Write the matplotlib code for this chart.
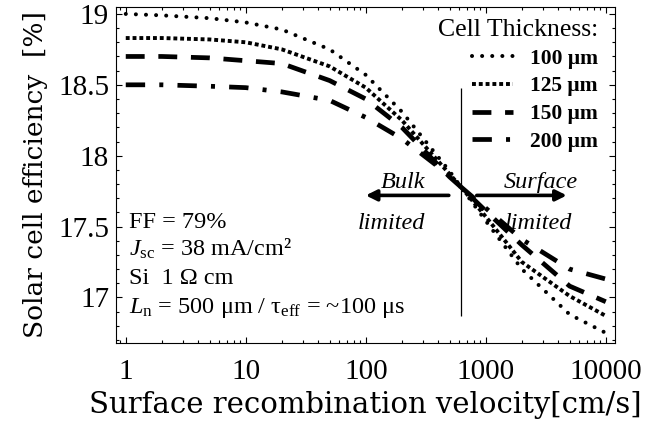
import numpy as np
import matplotlib
matplotlib.use("Agg")
import matplotlib.pyplot as plt
from matplotlib.ticker import FixedLocator, NullFormatter, LogLocator

## Data
velocity = [1, 2, 5, 10, 20, 50, 100, 200, 500, 620, 1000, 2000, 5000, 10000]
eff_100 = [19.00, 18.99, 18.97, 18.94, 18.89, 18.75, 18.57, 18.31, 17.89, 17.78, 17.54, 17.20, 16.88, 16.75]
eff_125 = [18.83, 18.83, 18.82, 18.80, 18.75, 18.63, 18.48, 18.25, 17.87, 17.78, 17.57, 17.25, 17.01, 16.87]
eff_150 = [18.70, 18.70, 18.69, 18.67, 18.65, 18.53, 18.40, 18.20, 17.85, 17.78, 17.61, 17.37, 17.08, 16.97]
eff_200 = [18.50, 18.50, 18.49, 18.48, 18.45, 18.39, 18.27, 18.12, 17.86, 17.78, 17.63, 17.41, 17.20, 17.13]
labels = ["100 μm", "125 μm", "150 μm", "200 μm"]

x_ticks = [1, 10, 100, 1000, 10000]
y_ticks = [17, 17.5, 18, 18.5, 19]

serif = "Liberation Serif"
wide_serif = "DejaVu Serif"
plt.rcParams["font.family"] = serif
plt.rcParams["mathtext.fontset"] = "custom"
plt.rcParams["mathtext.rm"] = serif
plt.rcParams["mathtext.it"] = serif + ":italic"
plt.rcParams["mathtext.bf"] = serif + ":bold"

fig = plt.figure(figsize=(6.52, 4.28), dpi=100)
ax = fig.add_axes([0.178, 0.199, 0.765, 0.785])

styles = [
    dict(lw=2.9, linestyle=(0, (0.01, 2.5)), dash_capstyle="round"),
    dict(lw=2.8, linestyle=(0, (1.0, 0.75)), dash_capstyle="butt"),
    dict(lw=3.4, linestyle=(0, (4.0, 2.9)), dash_capstyle="butt"),
    dict(lw=3.4, linestyle=(0, (4.1, 3.0, 0.85, 3.0)), dash_capstyle="butt"),
]
for eff, lab, st in zip([eff_100, eff_125, eff_150, eff_200], labels, styles):
    ax.plot(velocity, eff, color="black", label=lab, **st)

ax.set_xscale("log")
ax.set_xlim(0.83, 11900)
ax.set_ylim(16.68, 19.05)

ax.set_xticks(x_ticks)
ax.set_xticklabels([str(v) for v in x_ticks])
ax.xaxis.set_minor_locator(LogLocator(base=10, subs=np.arange(2, 10)))
ax.xaxis.set_minor_formatter(NullFormatter())
ax.set_yticks(y_ticks)
ax.set_yticklabels(["17", "17.5", "18", "18.5", "19"])
ax.yaxis.set_minor_locator(FixedLocator(np.arange(16.7, 19.05, 0.1)))

ax.tick_params(which="both", direction="in", top=True, right=True, width=0.8)
ax.tick_params(which="major", length=4)
ax.tick_params(which="minor", length=2.5)
ax.tick_params(axis="x", which="major", labelsize=21, pad=12)
ax.tick_params(axis="y", which="major", labelsize=21, pad=5)

ax.set_xlabel("Surface recombination velocity[cm/s]", fontsize=21,
              family=wide_serif, labelpad=4)
ax.set_ylabel("Solar cell efficiency  [%]", fontsize=19,
              family=wide_serif, labelpad=7)

# Bulk / surface limited regions
ax.vlines(620, 16.87, 18.48, color="black", lw=0.9)
ax.annotate("", xy=(100, 17.72), xytext=(492, 17.72),
            arrowprops=dict(arrowstyle="-|>", lw=2.6, color="black",
                            mutation_scale=16, shrinkA=0, shrinkB=0))
ax.annotate("", xy=(4730, 17.72), xytext=(841, 17.72),
            arrowprops=dict(arrowstyle="-|>", lw=2.6, color="black",
                            mutation_scale=16, shrinkA=0, shrinkB=0))
ax.text(203, 17.775, "Bulk", style="italic", fontsize=17.5, ha="center", va="baseline")
ax.text(165, 17.48, "limited", style="italic", fontsize=17.5, ha="center", va="baseline")
ax.text(2870, 17.775, "Surface", style="italic", fontsize=17.5, ha="center", va="baseline")
ax.text(2770, 17.48, "limited", style="italic", fontsize=17.5, ha="center", va="baseline")

# Cell parameters
params = ["FF = 79%",
          r"$J_{\rm sc}$ = 38 mA/cm²",
          "Si  1 Ω cm",
          r"$L_{\rm n}$ = 500 μm / τ$_{\rm eff}$ = ~100 μs"]
for i, s in enumerate(params):
    ax.text(0.026, 0.342 - i * 0.084, s, transform=ax.transAxes,
            fontsize=17.5, ha="left", va="baseline")

leg = ax.legend(loc="upper right", bbox_to_anchor=(0.99, 1.0), frameon=False,
                title="Cell Thickness:", alignment="right",
                handlelength=1.9, handletextpad=0.8,
                labelspacing=0.36, borderaxespad=0.15,
                prop=dict(family=serif, weight="bold", size=15.5),
                title_fontproperties=dict(family=serif, size=18.5))

fig.savefig("out.png", dpi=100)
